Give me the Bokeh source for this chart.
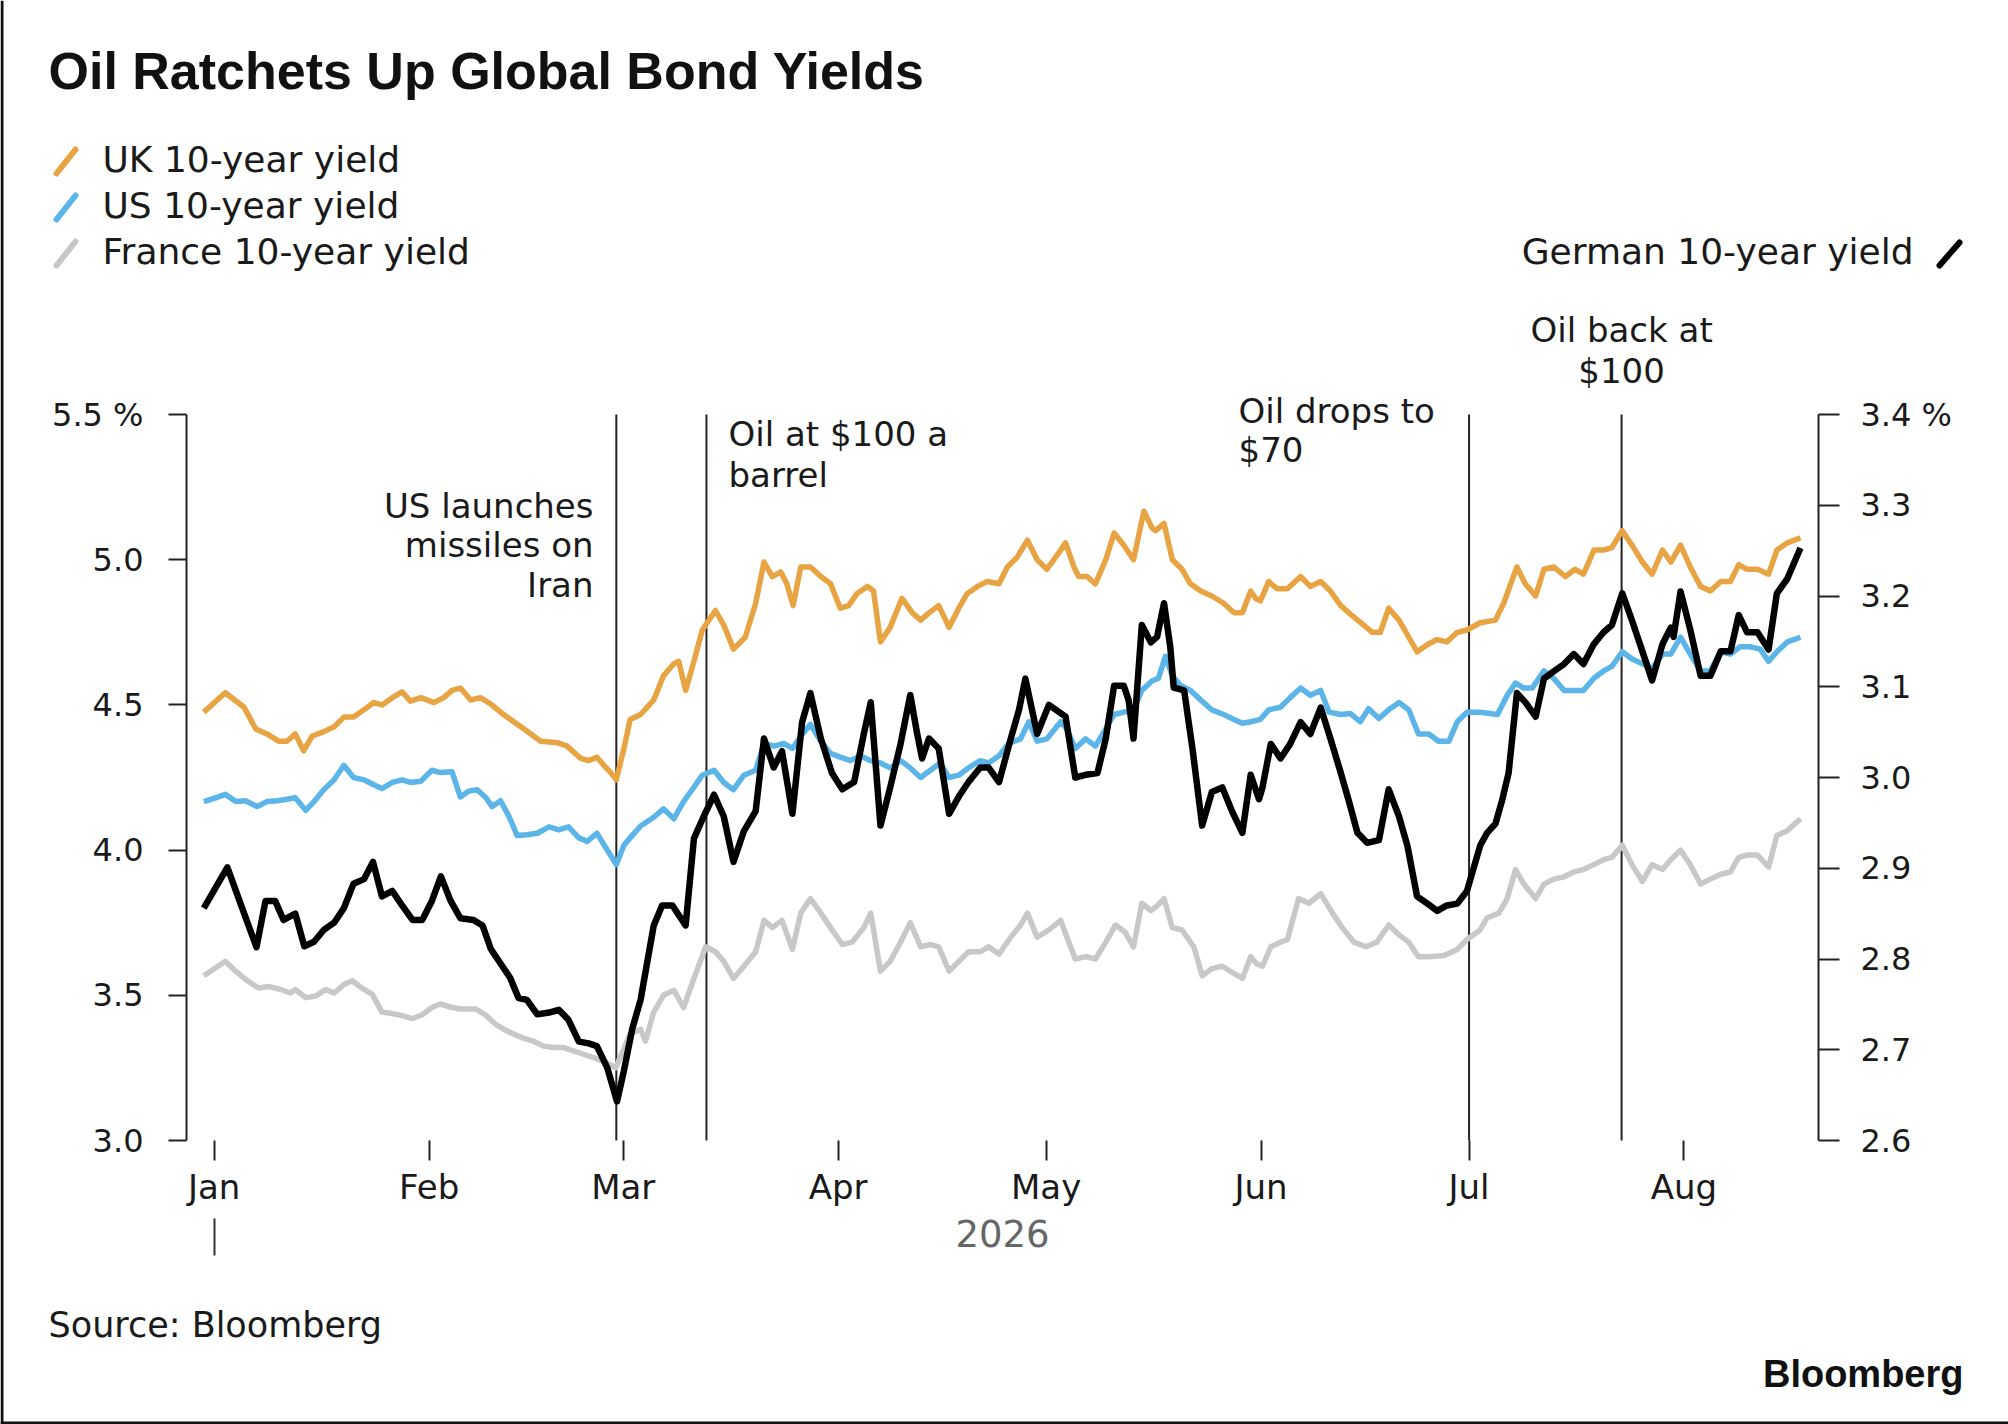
import numpy as np
import pandas as pd
from bokeh.plotting import figure
from bokeh.models import (Range1d, LinearAxis, DatetimeAxis, FixedTicker, CustomJSTickFormatter,
                          DatetimeTickFormatter, Label, Arrow, Span)
from bokeh.embed import file_html
from bokeh.resources import INLINE

# ---------------- data (days since 1 Jan 2026, yield in %) ----------------
uk_day = [-1.5, 1.6, 4.3, 6.0, 7.6, 9.3, 10.5, 11.7, 12.9, 14.1,
          15.8, 17.3, 18.7, 20.1, 21.6, 23.0, 24.2, 25.7, 27.1, 28.3,
          29.8, 31.7, 33.1, 34.3, 35.5, 37.0, 38.4, 39.9, 41.3, 43.2,
          44.7, 46.1, 47.1, 49.5, 50.9, 52.8, 54.0, 55.2, 56.2, 57.2,
          58.0, 59.1, 60.0, 61.5, 63.4, 64.8, 66.3, 67.0, 68.0, 69.2,
          70.4, 72.3, 73.5, 74.9, 76.6, 78.1, 79.3, 80.5, 81.7, 82.6,
          83.5, 84.6, 86.0, 87.5, 88.9, 90.3, 91.5, 92.7, 94.2, 95.1,
          96.1, 97.5, 99.2, 100.7, 101.9, 103.1, 104.5, 106.0, 107.4, 108.6,
          110.1, 111.5, 113.2, 114.4, 115.8, 117.3, 118.7, 120.1, 122.1, 122.8,
          124.0, 124.7, 125.9, 127.1, 128.6, 129.8, 131.2, 132.6, 134.1, 135.3,
          135.8, 137.0, 138.2, 139.6, 140.8, 142.3, 143.9, 145.6, 147.1, 148.3,
          149.5, 150.2, 150.9, 152.1, 153.3, 154.8, 156.7, 158.1, 159.6, 161.0,
          162.5, 164.1, 165.8, 167.0, 168.2, 169.4, 170.9, 172.3, 173.5, 175.0,
          176.4, 177.8, 179.3, 180.7, 182.6, 184.8, 186.0, 187.0, 187.9, 189.1,
          190.6, 191.8, 193.2, 194.9, 196.3, 197.5, 199.0, 200.4, 201.6, 203.1,
          204.5, 206.0, 207.4, 208.9, 210.1, 211.5, 212.9, 214.4, 215.8, 217.3,
          218.7, 219.9, 221.1, 222.6, 224.2, 225.4, 226.9, 228.8]
uk_val = [4.475, 4.542, 4.492, 4.417, 4.40, 4.375, 4.375, 4.40, 4.342, 4.392,
          4.408, 4.425, 4.458, 4.458, 4.483, 4.508, 4.50, 4.525, 4.545, 4.513,
          4.525, 4.508, 4.525, 4.55, 4.558, 4.517, 4.525, 4.503, 4.475, 4.442,
          4.417, 4.392, 4.375, 4.37, 4.358, 4.317, 4.308, 4.32, 4.292, 4.267,
          4.242, 4.35, 4.45, 4.467, 4.517, 4.60, 4.642, 4.65, 4.55, 4.65,
          4.758, 4.825, 4.775, 4.692, 4.733, 4.85, 4.992, 4.942, 4.958, 4.917,
          4.842, 4.975, 4.975, 4.942, 4.917, 4.833, 4.842, 4.883, 4.908, 4.892,
          4.717, 4.767, 4.867, 4.817, 4.792, 4.817, 4.842, 4.767, 4.833, 4.883,
          4.908, 4.925, 4.917, 4.975, 5.008, 5.067, 5.0, 4.967, 5.033, 5.058,
          4.975, 4.942, 4.942, 4.917, 5.0, 5.092, 5.05, 5.0, 5.167, 5.108,
          5.10, 5.125, 5.0, 4.967, 4.917, 4.892, 4.875, 4.85, 4.817, 4.817,
          4.892, 4.867, 4.858, 4.925, 4.90, 4.90, 4.942, 4.908, 4.925, 4.892,
          4.842, 4.808, 4.775, 4.75, 4.75, 4.833, 4.792, 4.733, 4.683, 4.708,
          4.725, 4.717, 4.75, 4.758, 4.783, 4.792, 4.85, 4.917, 4.975, 4.917,
          4.875, 4.967, 4.975, 4.942, 4.967, 4.95, 5.033, 5.033, 5.042, 5.10,
          5.05, 4.992, 4.95, 5.033, 4.992, 5.05, 4.975, 4.908, 4.892, 4.925,
          4.925, 4.983, 4.967, 4.967, 4.95, 5.033, 5.058, 5.075]

us_day = [-1.5, 0.2, 1.6, 3.1, 4.5, 6.2, 7.6, 9.1, 10.5, 11.7,
          13.2, 14.4, 15.8, 17.3, 18.7, 20.1, 21.6, 23.0, 24.2, 25.7,
          27.1, 28.3, 29.8, 31.4, 32.6, 34.3, 35.5, 36.7, 37.9, 39.1,
          40.1, 41.3, 42.5, 43.7, 45.1, 46.6, 48.3, 49.7, 51.1, 52.6,
          53.8, 55.2, 56.7, 58.0, 59.1, 60.0, 61.5, 63.4, 64.8, 66.3,
          67.7, 69.2, 70.4, 72.1, 73.5, 74.9, 76.4, 78.1, 79.3, 80.7,
          82.2, 83.4, 84.6, 86.0, 87.5, 88.9, 90.3, 91.8, 93.2, 94.7,
          96.1, 97.5, 99.0, 100.4, 101.9, 103.3, 104.7, 106.0, 107.4, 108.8,
          110.5, 111.7, 113.2, 114.6, 116.3, 117.5, 118.7, 120.1, 122.1, 123.0,
          124.2, 125.7, 127.1, 128.6, 129.8, 131.2, 132.6, 133.8, 135.3, 136.2,
          137.2, 138.2, 139.4, 140.8, 142.3, 143.9, 145.6, 147.1, 148.3, 149.5,
          150.9, 152.1, 153.8, 155.2, 156.7, 158.1, 159.6, 160.8, 162.5, 163.9,
          165.3, 166.5, 168.0, 169.4, 170.9, 172.3, 173.7, 175.2, 176.6, 178.1,
          179.3, 180.7, 182.6, 185.1, 186.5, 187.7, 188.9, 190.1, 191.8, 193.2,
          194.7, 196.1, 197.5, 199.0, 200.4, 201.6, 203.1, 204.5, 206.0, 207.4,
          208.9, 210.1, 211.5, 212.9, 214.4, 215.8, 217.3, 218.7, 220.1, 221.6,
          223.0, 224.2, 225.4, 226.9, 228.8]
us_val = [4.167, 4.18, 4.192, 4.167, 4.17, 4.15, 4.167, 4.17, 4.175, 4.18,
          4.137, 4.167, 4.208, 4.242, 4.292, 4.25, 4.242, 4.225, 4.212, 4.233,
          4.242, 4.233, 4.237, 4.275, 4.267, 4.27, 4.183, 4.203, 4.208, 4.183,
          4.15, 4.17, 4.117, 4.05, 4.053, 4.058, 4.08, 4.07, 4.08, 4.042,
          4.03, 4.058, 4.0, 3.95, 4.017, 4.042, 4.083, 4.113, 4.142, 4.108,
          4.167, 4.217, 4.258, 4.275, 4.233, 4.208, 4.258, 4.275, 4.367, 4.358,
          4.367, 4.35, 4.392, 4.433, 4.375, 4.333, 4.32, 4.308, 4.325, 4.308,
          4.30, 4.283, 4.308, 4.283, 4.25, 4.275, 4.30, 4.25, 4.258, 4.283,
          4.308, 4.30, 4.325, 4.367, 4.383, 4.442, 4.375, 4.383, 4.442, 4.417,
          4.35, 4.383, 4.358, 4.417, 4.467, 4.475, 4.483, 4.55, 4.583, 4.592,
          4.667, 4.60, 4.567, 4.55, 4.517, 4.483, 4.467, 4.45, 4.437, 4.442,
          4.45, 4.483, 4.492, 4.525, 4.558, 4.533, 4.55, 4.475, 4.467, 4.47,
          4.442, 4.487, 4.453, 4.483, 4.508, 4.483, 4.40, 4.40, 4.375, 4.375,
          4.442, 4.475, 4.475, 4.467, 4.533, 4.575, 4.558, 4.558, 4.617, 4.592,
          4.55, 4.55, 4.55, 4.592, 4.617, 4.633, 4.683, 4.658, 4.642, 4.625,
          4.675, 4.675, 4.733, 4.675, 4.617, 4.617, 4.683, 4.675, 4.70, 4.70,
          4.692, 4.65, 4.683, 4.717, 4.733]

fr_day = [-1.5, 1.6, 3.1, 4.8, 6.4, 7.9, 9.6, 11.0, 11.7, 13.2,
          14.6, 16.1, 17.3, 18.7, 19.9, 21.3, 22.8, 24.2, 25.7, 27.1,
          28.6, 30.0, 31.4, 32.6, 34.3, 35.5, 37.7, 39.1, 40.6, 42.0,
          43.5, 44.9, 46.1, 47.5, 49.0, 50.4, 51.9, 53.3, 55.0, 56.7,
          57.9, 59.1, 60.0, 61.5, 62.2, 63.4, 64.8, 66.3, 67.7, 69.2,
          70.9, 72.3, 73.5, 74.9, 76.4, 78.1, 79.3, 80.5, 81.9, 83.4,
          84.6, 86.0, 87.5, 88.9, 90.6, 92.0, 93.7, 94.7, 96.1, 97.5,
          99.0, 100.4, 101.9, 103.3, 104.5, 106.0, 107.4, 108.8, 110.5, 111.7,
          113.2, 114.9, 116.3, 117.3, 118.7, 120.4, 122.1, 123.0, 124.2, 125.7,
          127.1, 128.6, 130.0, 131.4, 132.6, 133.8, 135.1, 136.0, 137.0, 138.2,
          139.6, 141.3, 142.5, 143.9, 145.4, 147.1, 148.3, 149.5, 150.4, 151.2,
          152.4, 153.8, 154.8, 156.4, 157.9, 159.6, 161.3, 162.7, 164.4, 166.1,
          167.7, 169.4, 170.9, 172.3, 173.7, 175.2, 177.4, 179.3, 180.7, 182.6,
          183.6, 185.3, 186.5, 187.7, 188.9, 190.6, 191.8, 193.2, 194.7, 196.1,
          197.5, 199.0, 200.4, 201.6, 203.1, 204.5, 206.0, 207.4, 208.9, 210.1,
          211.5, 212.9, 214.4, 215.8, 217.3, 218.7, 219.9, 221.1, 222.6, 224.2,
          225.4, 226.9, 228.8]
fr_val = [3.567, 3.617, 3.583, 3.55, 3.525, 3.53, 3.52, 3.508, 3.52, 3.492,
          3.497, 3.52, 3.508, 3.537, 3.55, 3.525, 3.503, 3.442, 3.437, 3.43,
          3.42, 3.433, 3.458, 3.47, 3.458, 3.453, 3.453, 3.433, 3.40, 3.38,
          3.363, 3.35, 3.342, 3.325, 3.32, 3.32, 3.308, 3.297, 3.283, 3.267,
          3.25, 3.317, 3.367, 3.383, 3.342, 3.442, 3.50, 3.517, 3.458, 3.558,
          3.667, 3.65, 3.617, 3.558, 3.60, 3.65, 3.758, 3.733, 3.758, 3.658,
          3.783, 3.833, 3.783, 3.733, 3.675, 3.683, 3.733, 3.783, 3.583, 3.617,
          3.683, 3.75, 3.667, 3.675, 3.667, 3.583, 3.617, 3.65, 3.65, 3.667,
          3.642, 3.70, 3.742, 3.783, 3.70, 3.725, 3.758, 3.70, 3.625, 3.633,
          3.625, 3.683, 3.742, 3.717, 3.667, 3.817, 3.792, 3.808, 3.833, 3.733,
          3.725, 3.667, 3.567, 3.592, 3.60, 3.575, 3.558, 3.633, 3.608, 3.60,
          3.667, 3.683, 3.692, 3.833, 3.817, 3.85, 3.783, 3.733, 3.683, 3.667,
          3.683, 3.742, 3.708, 3.683, 3.633, 3.633, 3.637, 3.658, 3.692, 3.725,
          3.767, 3.783, 3.833, 3.933, 3.883, 3.833, 3.883, 3.90, 3.908, 3.925,
          3.933, 3.95, 3.967, 3.975, 4.017, 3.95, 3.892, 3.95, 3.933, 3.967,
          4.0, 3.95, 3.883, 3.90, 3.917, 3.925, 3.975, 3.983, 3.983, 3.942,
          4.05, 4.067, 4.108]

de_day = [-1.5, 1.9, 3.8, 6.1, 7.4, 8.8, 10.0, 11.7, 13.0, 14.4,
          15.8, 17.3, 18.7, 20.1, 21.6, 22.9, 24.2, 25.7, 27.1, 28.6,
          30.0, 31.4, 32.7, 34.1, 35.5, 37.4, 38.7, 39.9, 41.3, 42.7,
          43.9, 45.1, 46.6, 48.3, 49.7, 51.1, 52.6, 54.0, 55.2, 56.7,
          58.1, 59.1, 60.3, 61.5, 63.4, 64.6, 66.1, 68.0, 69.2, 70.6,
          72.1, 73.5, 74.9, 76.4, 78.1, 79.3, 80.7, 81.9, 83.4, 84.8,
          86.0, 87.5, 89.1, 90.6, 92.3, 93.7, 94.7, 96.1, 97.5, 99.0,
          100.4, 101.4, 102.1, 103.1, 104.5, 106.0, 107.4, 108.8, 110.5, 111.7,
          113.2, 114.9, 116.1, 117.0, 118.7, 120.4, 122.8, 124.2, 125.7, 127.4,
          128.6, 129.8, 131.2, 131.9, 132.6, 133.8, 135.1, 136.0, 137.0, 137.9,
          138.4, 139.9, 141.1, 142.5, 143.9, 145.4, 146.8, 148.3, 149.5, 150.7,
          151.2, 152.4, 153.8, 155.2, 156.7, 158.1, 159.6, 161.0, 162.5, 163.7,
          164.9, 166.3, 168.0, 169.4, 170.9, 172.1, 173.5, 175.0, 176.4, 177.8,
          179.3, 180.7, 182.6, 183.6, 184.8, 185.8, 186.7, 187.9, 189.1, 190.6,
          191.8, 193.2, 194.7, 196.1, 197.5, 199.0, 200.4, 201.6, 203.1, 204.5,
          206.0, 207.4, 208.9, 210.1, 210.5, 211.5, 212.9, 214.4, 215.8, 217.3,
          218.7, 219.9, 221.1, 222.6, 224.2, 225.4, 226.9, 228.8]
de_val = [2.856, 2.901, 2.861, 2.813, 2.864, 2.864, 2.843, 2.850, 2.814, 2.819,
          2.832, 2.840, 2.856, 2.883, 2.888, 2.907, 2.869, 2.875, 2.859, 2.843,
          2.843, 2.864, 2.891, 2.864, 2.845, 2.843, 2.837, 2.811, 2.795, 2.779,
          2.757, 2.755, 2.739, 2.741, 2.744, 2.733, 2.709, 2.707, 2.704, 2.68,
          2.643, 2.677, 2.723, 2.755, 2.837, 2.859, 2.859, 2.837, 2.933, 2.957,
          2.981, 2.957, 2.907, 2.941, 2.963, 3.043, 3.011, 3.029, 2.96, 3.061,
          3.093, 3.043, 3.005, 2.987, 2.995, 3.048, 3.083, 2.947, 2.989, 3.037,
          3.091, 3.048, 3.021, 3.043, 3.032, 2.96, 2.979, 2.995, 3.011, 3.011,
          2.995, 3.043, 3.075, 3.109, 3.048, 3.08, 3.067, 3.0, 3.003, 3.005,
          3.043, 3.101, 3.101, 3.085, 3.043, 3.168, 3.149, 3.155, 3.192, 3.144,
          3.099, 3.096, 3.032, 2.947, 2.984, 2.989, 2.963, 2.939, 3.003, 2.976,
          2.989, 3.037, 3.021, 3.037, 3.061, 3.048, 3.077, 3.043, 3.005, 2.973,
          2.939, 2.928, 2.931, 2.987, 2.957, 2.925, 2.869, 2.861, 2.853, 2.859,
          2.861, 2.875, 2.925, 2.939, 2.949, 2.976, 3.005, 3.093, 3.083, 3.067,
          3.109, 3.117, 3.125, 3.136, 3.125, 3.147, 3.16, 3.168, 3.203, 3.173,
          3.139, 3.107, 3.147, 3.165, 3.155, 3.205, 3.163, 3.112, 3.112, 3.139,
          3.139, 3.179, 3.16, 3.16, 3.141, 3.203, 3.219, 3.253]

month_ticks = ["2026-01-01", "2026-02-01", "2026-03-01", "2026-04-01",
               "2026-05-01", "2026-06-01", "2026-07-01", "2026-08-01"]
left_ticks = [3.0, 3.5, 4.0, 4.5, 5.0, 5.5]
right_ticks = [2.6, 2.7, 2.8, 2.9, 3.0, 3.1, 3.2, 3.3, 3.4]
event_dates = ["2026-02-28", "2026-03-13", "2026-07-01", "2026-07-23"]

title_text = "Oil Ratchets Up Global Bond Yields"
legend_left = ["UK 10-year yield", "US 10-year yield", "France 10-year yield"]
legend_right = "German 10-year yield"
C_UK, C_US, C_FR, C_DE = "#E8A342", "#5BB5E8", "#C8C8C8", "#000000"

# ---------------- geometry (page pixels) ----------------
BASE = pd.Timestamp("2026-01-01")
EPOCH = pd.Timestamp("1970-01-01")
W, H = 2008, 1424
CL, CT = 0, 0
CR, CB = CL + W, CT + H
AX_L, AX_R, AX_T, AX_B = 186, 1818, 414, 1140   # axis box on the page
X0_PX, PX_PER_DAY = 213.7, 6.933                 # Jan 1 position, scale
LY0, LY1 = 3.0, 5.5                              # left axis extent
RY0, RY1 = 2.6, 3.4                              # right axis extent
BASELINE_FIX = 0.37                              # label anchor correction (em)


def ms(ts):
    return (pd.Timestamp(ts) - EPOCH) / pd.Timedelta(milliseconds=1)


def day_ms(d):
    return ms(BASE + pd.Timedelta(days=d))


def px_to_day(X):
    return (X - X0_PX) / PX_PER_DAY


def px_to_left(Y):
    return LY0 + (AX_B - Y) * (LY1 - LY0) / (AX_B - AX_T)


def px_to_right(Y):
    return RY0 + (AX_B - Y) * (RY1 - RY0) / (AX_B - AX_T)


def to_dates(days):
    return (BASE + pd.to_timedelta(np.asarray(days, dtype=float), unit="D")).to_numpy()


TXT = "#1a1a1a"
FONT = "DejaVu Sans"

p = figure(width=W, height=H, output_backend="svg", toolbar_location=None,
           x_axis_type="datetime",
           x_range=Range1d(day_ms(px_to_day(CL)), day_ms(px_to_day(CR))),
           y_range=Range1d(px_to_left(CB), px_to_left(CT)),
           min_border_left=0, min_border_right=0, min_border_top=0, min_border_bottom=0)
p.extra_y_ranges = {"de": Range1d(px_to_right(CB), px_to_right(CT))}
p.grid.visible = False
p.outline_line_color = None
p.background_fill_color = "white"
p.border_fill_color = "white"

# ---------------- axes ----------------
yl = p.yaxis[0]
yl.fixed_location = day_ms(px_to_day(AX_L))
yl.bounds = (LY0, LY1)
yl.ticker = FixedTicker(ticks=left_ticks)
yl.formatter = CustomJSTickFormatter(code="return tick > 5.45 ? tick.toFixed(1) + ' %' : tick.toFixed(1);")
yr = LinearAxis(y_range_name="de")
yr.fixed_location = day_ms(px_to_day(AX_R))
yr.bounds = (RY0, RY1)
yr.ticker = FixedTicker(ticks=right_ticks)
yr.formatter = CustomJSTickFormatter(code="return tick > 3.35 ? tick.toFixed(1) + ' %' : tick.toFixed(1);")
p.add_layout(yr, "right")
for ax, out, stand in ((yl, 18, 25), (yr, 21, 21)):
    ax.axis_line_color = "#222222"
    ax.axis_line_width = 2
    ax.major_tick_line_color = "#222222"
    ax.major_tick_line_width = 2
    ax.major_tick_in = 0
    ax.major_tick_out = out
    ax.minor_tick_line_color = None
    ax.major_label_standoff = stand
    ax.major_label_text_font = FONT
    ax.major_label_text_font_size = "32px"
    ax.major_label_text_color = TXT

xa = p.xaxis[0]
xa.fixed_location = LY0
xa.ticker = FixedTicker(ticks=[ms(d) for d in month_ticks])
fmt = "%b"
xa.formatter = DatetimeTickFormatter(milliseconds=fmt, seconds=fmt, minsec=fmt, minutes=fmt,
                                     hourmin=fmt, hours=fmt, days=fmt, months=fmt, years=fmt)
xa.axis_line_color = None
xa.major_tick_line_color = "#222222"
xa.major_tick_line_width = 2
xa.major_tick_in = 0
xa.major_tick_out = 20
xa.minor_tick_line_color = None
xa.major_label_standoff = 6
xa.major_label_text_font = FONT
xa.major_label_text_font_size = "34px"
xa.major_label_text_color = TXT

# year-start marker below the month labels
xy = DatetimeAxis(fixed_location=px_to_left(1218))
xy.ticker = FixedTicker(ticks=[ms(month_ticks[0])])
xy.formatter = CustomJSTickFormatter(code="return '';")
xy.axis_line_color = None
xy.major_tick_line_color = "#333333"
xy.major_tick_line_width = 2
xy.major_tick_in = 0
xy.major_tick_out = 37
xy.minor_tick_line_color = None
p.add_layout(xy, "below")

# ---------------- event lines ----------------
ev = [ms(d) for d in event_dates]
p.segment(x0=ev, y0=[LY0] * len(ev), x1=ev, y1=[LY1] * len(ev), line_color="#222222", line_width=2)

# ---------------- series ----------------
p.line(to_dates(fr_day), fr_val, line_color=C_FR, line_width=5.5, line_join="round")
p.line(to_dates(uk_day), uk_val, line_color=C_UK, line_width=5.5, line_join="round")
p.line(to_dates(us_day), us_val, line_color=C_US, line_width=5.5, line_join="round")
p.line(to_dates(de_day), de_val, line_color=C_DE, line_width=6.5, line_join="round", y_range_name="de")

# ---------------- screenshot frame edges ----------------
p.add_layout(Span(location=day_ms(px_to_day(1.5)), dimension="height", line_color="#111111", line_width=3))
p.add_layout(Span(location=px_to_left(1422.5), dimension="width", line_color="#111111", line_width=3))


# ---------------- annotations ----------------
def lab(text, X, Y, align="left", size=34, font=FONT, style="normal", color=TXT, x_data=None):
    if x_data is None:
        kw = dict(x=X - CL, x_units="screen")
    else:
        kw = dict(x=x_data, x_units="data")
    p.add_layout(Label(y=CB - (Y - BASELINE_FIX * size), y_units="screen", text=text,
                       text_align=align, text_baseline="alphabetic", text_font=font,
                       text_font_size=f"{size}px", text_font_style=style, text_color=color, **kw))


def slash(X0, Y0, X1, Y1, color):
    p.add_layout(Arrow(x_start=X0 - CL, y_start=CB - Y0, x_end=X1 - CL, y_end=CB - Y1,
                       start_units="screen", end_units="screen", start=None, end=None,
                       line_color=color, line_width=6, line_cap="round"))


lab(title_text, 48, 90, size=52, font="Liberation Sans", style="bold", color="#111111")

for (txt, yb, col) in zip(legend_left, (172, 218, 264), (C_UK, C_US, C_FR)):
    slash(56, yb + 1, 75, yb - 23, col)
    lab(txt, 102, yb, size=36)
lab(legend_right, 1913, 264, align="right", size=36)
slash(1939, 265, 1959, 242, C_DE)

for txt, yb in (("US launches", 518), ("missiles on", 557), ("Iran", 597)):
    lab(txt, 593, yb, align="right")
for txt, yb in (("Oil at $100 a", 446), ("barrel", 487)):
    lab(txt, 728, yb)
for txt, yb in (("Oil drops to", 423), ("$70", 462)):
    lab(txt, 1238, yb)
for txt, yb in (("Oil back at", 342), ("$100", 383)):
    lab(txt, 0, yb, align="center", x_data=ms(event_dates[3]))

lab("2026", (AX_L + AX_R) / 2, 1247, align="center", size=37, color="#666666")

lab("Source: Bloomberg", 48, 1337, size=35)
lab("Bloomberg", 1963, 1388, align="right", size=38, font="Liberation Sans", style="bold",
    color="#111111")

open("out.html", "w").write(file_html(p, INLINE))
